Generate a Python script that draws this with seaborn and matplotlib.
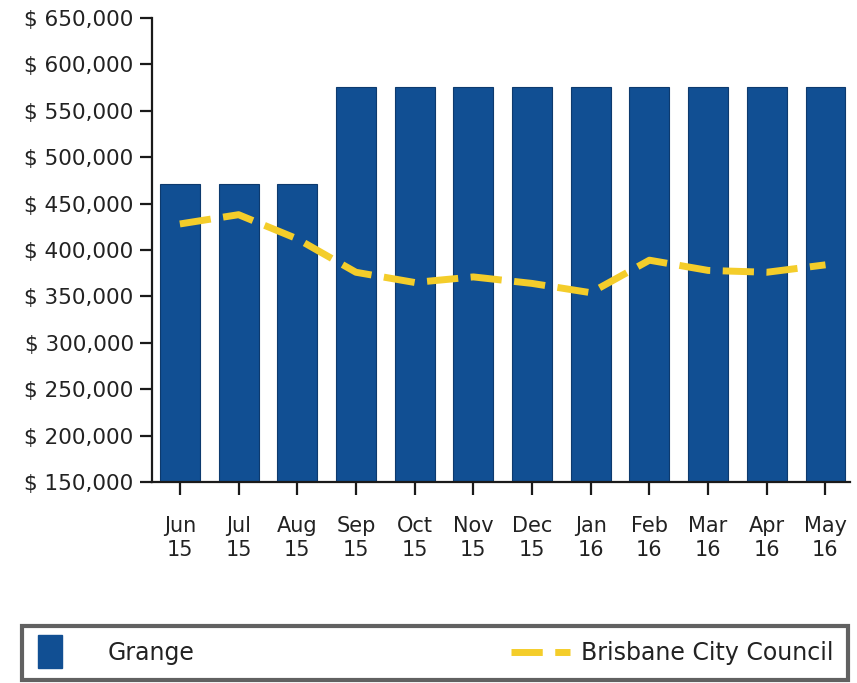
import numpy as np
import pandas as pd
import matplotlib
matplotlib.use("Agg")
import matplotlib.pyplot as plt
import seaborn as sns
from matplotlib.patches import Rectangle, Patch
from matplotlib.lines import Line2D
from matplotlib.legend_handler import HandlerPatch
from matplotlib.ticker import FuncFormatter

months = ["Jun\n15", "Jul\n15", "Aug\n15", "Sep\n15", "Oct\n15", "Nov\n15",
          "Dec\n15", "Jan\n16", "Feb\n16", "Mar\n16", "Apr\n16", "May\n16"]
grange = [471000, 471000, 471000, 575000, 575000, 575000,
          575000, 575000, 575000, 575000, 575000, 575000]
brisbane = [428000, 438000, 412000, 376000, 365000, 371000,
            364000, 354000, 389000, 378000, 376000, 384000]
y_ticks = [150000, 200000, 250000, 300000, 350000, 400000,
           450000, 500000, 550000, 600000, 650000]

BLUE = "#114f93"
YELLOW = "#f4cd2a"
DARK = "#1a1a1a"

sns.set_theme(style="white")
plt.rcParams['font.family'] = ['DejaVu Sans']

fig = plt.figure(figsize=(8.57, 6.83), dpi=100)
ax = fig.add_axes([0.177, 0.294, 0.815, 0.680])

df = pd.DataFrame({"month": months, "grange": grange, "brisbane": brisbane})
sns.barplot(data=df, x="month", y="grange", color=BLUE, saturation=1,
            width=0.68, ax=ax, edgecolor="#0d3a6e", linewidth=0.8)
df["pos"] = np.arange(len(months))
sns.lineplot(data=df, x="pos", y="brisbane", ax=ax, color=YELLOW,
             linewidth=5, dashes=False)
ln = ax.lines[-1]
ln.set_dashes([4.5, 1.8])
ln.set_dash_capstyle("butt")

ax.set_ylim(150000, 650000)
ax.set_xlim(-0.48, 11.42)
ax.set_yticks(y_ticks)
ax.yaxis.set_major_formatter(FuncFormatter(lambda v, p: "$ {:,.0f}".format(v)))
ax.set_xticks(np.arange(len(months)))
ax.set_xticklabels(months, linespacing=1.25)
ax.set_xlabel("")
ax.set_ylabel("")

for s in ["top", "right"]:
    ax.spines[s].set_visible(False)
for s in ["left", "bottom"]:
    ax.spines[s].set_color(DARK)
    ax.spines[s].set_linewidth(1.6)

ax.tick_params(axis="y", which="major", length=9, width=1.6, color=DARK,
               labelsize=15.5, labelcolor="#222222", pad=4, left=True)
ax.tick_params(axis="x", which="major", length=9, width=1.6, color=DARK,
               labelsize=15, labelcolor="#222222", pad=15, bottom=True)


def square_patch(legend, orig_handle, xdescent, ydescent, width, height, fontsize):
    h = height * 2.0
    return Rectangle((-xdescent, -ydescent + height / 2 - h / 2), width * 0.42, h)


handles = [Patch(facecolor=BLUE, edgecolor=BLUE),
           Line2D([0], [0], color=YELLOW, linewidth=5, dashes=[4.5, 1.8],
                  dash_capstyle="butt")]
labels = ["Grange", "Brisbane City Council"]
leg = fig.legend(handles, labels, loc="lower left",
                 bbox_to_anchor=(0.026, 0.004, 0.964, 0.091), mode="expand",
                 ncol=2, borderaxespad=0, fontsize=17, handlelength=2.5,
                 handletextpad=0.45, borderpad=0.65, fancybox=False,
                 frameon=True, handler_map={Patch: HandlerPatch(patch_func=square_patch)})
frame = leg.get_frame()
frame.set_edgecolor("#3a3a3a")
frame.set_linewidth(3)
frame.set_facecolor("white")
for t in leg.get_texts():
    t.set_color("#222222")

fig.savefig("out.png", dpi=100, facecolor="white")
